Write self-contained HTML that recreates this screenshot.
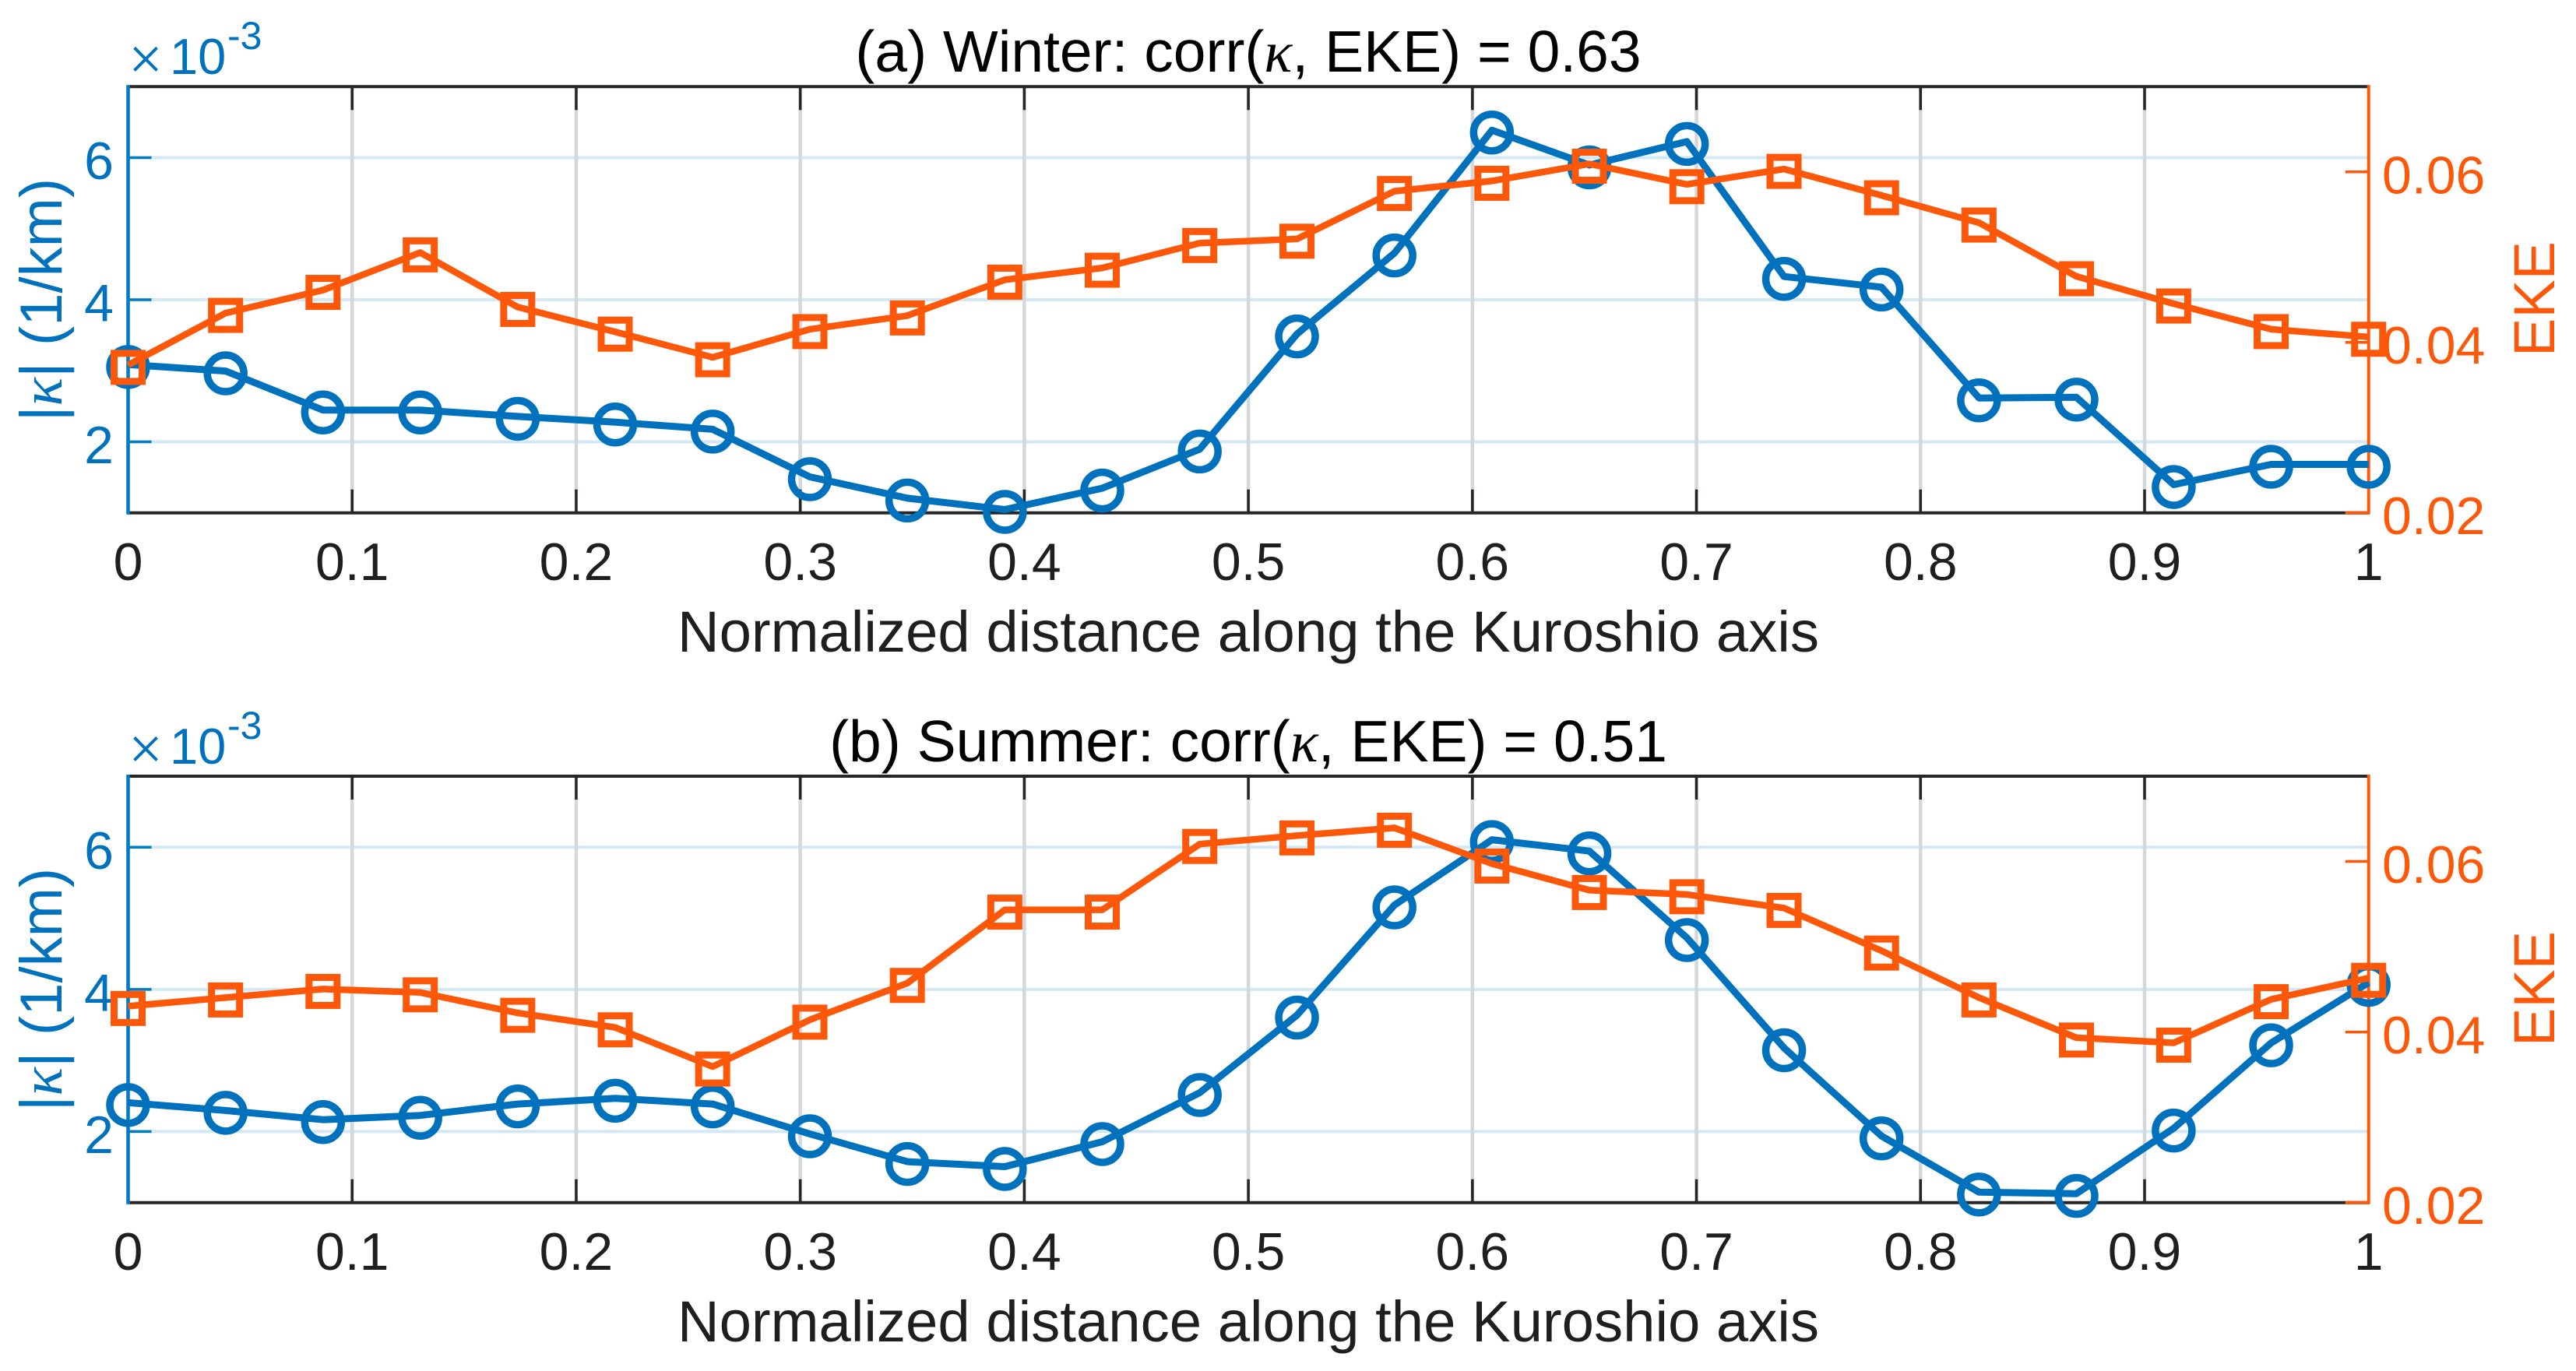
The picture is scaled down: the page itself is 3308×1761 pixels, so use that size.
<!DOCTYPE html>
<html lang="en">
<head>
<meta charset="utf-8">
<title>Curvature and EKE along the Kuroshio axis</title>
<style>
html,body{margin:0;padding:0;background:#fff;}
svg{display:block;}
text{font-family:"Liberation Sans",Arial,sans-serif;}
.k{font-family:"Liberation Serif",serif;font-style:italic;}
.blue{fill:#0072BD;}
.orange{fill:#FD5709;}
.dark{fill:#1f1f1f;}
</style>
</head>
<body>
<svg id="chart" xmlns="http://www.w3.org/2000/svg" width="3308" height="1761" viewBox="0 0 3308 1761">
  <rect x="0" y="0" width="3308" height="1761" fill="#fff"/>

  <g id="panel-a">
    <g id="a-axes"></g>
    <text x="1603" y="92" text-anchor="middle" font-size="75" fill="#000">(a) Winter: corr(<tspan class="k">κ</tspan>, EKE) = 0.63</text>
    <text x="1603" y="837" text-anchor="middle" font-size="74.3" class="dark">Normalized distance along the Kuroshio axis</text>
    <text transform="translate(79,385) rotate(-90)" text-anchor="middle" font-size="76" class="blue">|<tspan class="k">κ</tspan>| (1/km)</text>
    <text transform="translate(3280,384) rotate(-90)" text-anchor="middle" font-size="74" class="orange">EKE</text>
    <g>
      <text x="165" y="102" font-size="78" class="blue" style="font-family:'Liberation Serif',serif">×</text>
      <text x="218" y="95" font-size="65" class="blue">10</text>
      <text x="292" y="63" font-size="50" class="blue">-3</text>
    </g>
    <g id="a-series"></g>
  </g>

  <g id="panel-b">
    <g id="b-axes"></g>
    <text x="1603" y="978" text-anchor="middle" font-size="75" fill="#000">(b) Summer: corr(<tspan class="k">κ</tspan>, EKE) = 0.51</text>
    <text x="1603" y="1723" text-anchor="middle" font-size="74.3" class="dark">Normalized distance along the Kuroshio axis</text>
    <text transform="translate(79,1271) rotate(-90)" text-anchor="middle" font-size="76" class="blue">|<tspan class="k">κ</tspan>| (1/km)</text>
    <text transform="translate(3280,1270) rotate(-90)" text-anchor="middle" font-size="74" class="orange">EKE</text>
    <g>
      <text x="165" y="988" font-size="78" class="blue" style="font-family:'Liberation Serif',serif">×</text>
      <text x="218" y="981" font-size="65" class="blue">10</text>
      <text x="292" y="949" font-size="50" class="blue">-3</text>
    </g>
    <g id="b-series"></g>
  </g>
</svg>

<script>
// ---- data ----
const distance = [0, 0.0435, 0.087, 0.1304, 0.1739, 0.2174, 0.2609, 0.3043, 0.3478, 0.3913, 0.4348, 0.4783, 0.5217, 0.5652, 0.6087, 0.6522, 0.6957, 0.7391, 0.7826, 0.8261, 0.8696, 0.913, 0.9565, 1];
const winterCurvature = [3.07, 2.98, 2.43, 2.43, 2.34, 2.26, 2.16, 1.49, 1.19, 1.03, 1.33, 1.88, 3.50, 4.64, 6.37, 5.88, 6.21, 4.31, 4.16, 2.60, 2.61, 1.38, 1.665, 1.665];
const winterEke = [0.0372, 0.0433, 0.0460, 0.0504, 0.0440, 0.0411, 0.0381, 0.0414, 0.0430, 0.0472, 0.0486, 0.0515, 0.0520, 0.0576, 0.0588, 0.0608, 0.0584, 0.0602, 0.0571, 0.0539, 0.0476, 0.0444, 0.0414, 0.0405];
const summerCurvature = [2.39, 2.28, 2.15, 2.21, 2.37, 2.45, 2.37, 1.95, 1.56, 1.49, 1.84, 2.53, 3.62, 5.17, 6.09, 5.93, 4.71, 3.16, 1.92, 1.13, 1.11, 2.03, 3.23, 4.08];
const summerEke = [0.0429, 0.0439, 0.0449, 0.0445, 0.0421, 0.0404, 0.0358, 0.0413, 0.0456, 0.0542, 0.0542, 0.0619, 0.0629, 0.0638, 0.0596, 0.0565, 0.0560, 0.0544, 0.0494, 0.0439, 0.0392, 0.0386, 0.0437, 0.0462];
const xTicks = [0, 0.1, 0.2, 0.3, 0.4, 0.5, 0.6, 0.7, 0.8, 0.9, 1];
const xTickLabels = ['0', '0.1', '0.2', '0.3', '0.4', '0.5', '0.6', '0.7', '0.8', '0.9', '1'];
const curvatureTicks = [2, 4, 6];
const curvatureTickLabels = ['2', '4', '6'];
const ekeTicks = [0.02, 0.04, 0.06];
const ekeTickLabels = ['0.02', '0.04', '0.06'];
const curvatureLimits = [1, 7];
const ekeLimits = [0.02, 0.07];

// ---- axis functions ----
const NS = 'http://www.w3.org/2000/svg';
const LEFT = 164.5, RIGHT = 3041.7;
const BLUE = '#0072BD', ORANGE = '#FD5709', DARK = '#262626';

function xScale(v) { return LEFT + v * (RIGHT - LEFT); }
function leftScale(top, bottom, v) {
  return bottom - (v - curvatureLimits[0]) / (curvatureLimits[1] - curvatureLimits[0]) * (bottom - top);
}
function rightScale(top, bottom, v) {
  return bottom - (v - ekeLimits[0]) / (ekeLimits[1] - ekeLimits[0]) * (bottom - top);
}
function make(tag, parent, attrs) {
  const el = document.createElementNS(NS, tag);
  for (const k in attrs) el.setAttribute(k, attrs[k]);
  parent.appendChild(el);
  return el;
}
function seg(parent, x1, y1, x2, y2, color, w) {
  return make('line', parent, { x1: x1, y1: y1, x2: x2, y2: y2, stroke: color, 'stroke-width': w });
}

function drawAxes(parent, top, bottom) {
  curvatureTicks.forEach(function (v) {
    const g = seg(parent, LEFT, leftScale(top, bottom, v), RIGHT, leftScale(top, bottom, v), '#D2E8F4', 4);
    
    
  });
  xTicks.forEach(function (v) {
    if (v === 0 || v === 1) return;
    const g = seg(parent, xScale(v), top, xScale(v), bottom, '#D5D8DB', 4.5);
    
    
  });
  const topSpine = seg(parent, LEFT, top, RIGHT, top, DARK, 4);
  
  
  const bottomSpine = seg(parent, LEFT, bottom, RIGHT, bottom, DARK, 4);
  
  

  xTicks.forEach(function (v, i) {
    if (v !== 0 && v !== 1) {
      const t1 = seg(parent, xScale(v), top, xScale(v), top + 30, DARK, 3.5);
      
      
      const t2 = seg(parent, xScale(v), bottom, xScale(v), bottom - 30, DARK, 3.5);
      
      
    }
    const lab = make('text', parent, { x: xScale(v), y: bottom + 86.5, 'text-anchor': 'middle', 'font-size': 68, fill: '#1f1f1f' });
    lab.textContent = xTickLabels[i];
    
    
  });

  const leftSpine = seg(parent, LEFT, top - 2, LEFT, bottom + 2, '#007CC4', 4.6);
  
  
  curvatureTicks.forEach(function (v, i) {
    const y = leftScale(top, bottom, v);
    const t = seg(parent, LEFT, y, LEFT + 30, y, '#007CC4', 3.5);
    
    
    const lab = make('text', parent, { x: 146, y: y + 27.5, 'text-anchor': 'end', 'font-size': 68, fill: BLUE });
    lab.textContent = curvatureTickLabels[i];
    
    
  });

  const rightSpine = seg(parent, RIGHT, top - 2, RIGHT, bottom + 2, ORANGE, 4);
  
  
  ekeTicks.forEach(function (v, i) {
    const y = rightScale(top, bottom, v);
    const t = seg(parent, RIGHT - 30, y, RIGHT, y, ORANGE, i === 0 ? 4 : 3.5);
    
    
    const lab = make('text', parent, { x: 3059, y: y + 27.5, 'font-size': 68, fill: ORANGE });
    lab.textContent = ekeTickLabels[i];
    
    
  });
}

function pointsFor(xs, ys, scale, top, bottom, dy) {
  return xs.map(function (x, i) {
    return xScale(x).toFixed(1) + ',' + (scale(top, bottom, ys[i]) + dy).toFixed(1);
  }).join(' ');
}

function drawCurvature(parent, top, bottom, values) {
  const line = make('polyline', parent, { points: pointsFor(distance, values, leftScale, top, bottom, -1.5), fill: 'none', stroke: BLUE, 'stroke-width': 9, 'stroke-linejoin': 'round' });
  
  
  values.forEach(function (v, i) {
    const c = make('circle', parent, { cx: xScale(distance[i]), cy: leftScale(top, bottom, v) + 1.5, r: 23.5, fill: 'none', stroke: BLUE, 'stroke-width': 9.5 });
    
    
  });
}

function drawEke(parent, top, bottom, values) {
  const line = make('polyline', parent, { points: pointsFor(distance, values, rightScale, top, bottom, -1.5), fill: 'none', stroke: ORANGE, 'stroke-width': 8.5, 'stroke-linejoin': 'round' });
  
  
  values.forEach(function (v, i) {
    const s = make('rect', parent, { x: xScale(distance[i]) - 18, y: rightScale(top, bottom, v) + 1.5 - 18, width: 36, height: 36, fill: 'none', stroke: ORANGE, 'stroke-width': 9 });
    
    
  });
}

const A_TOP = 111.3, A_BOTTOM = 658.7, B_TOP = 997, B_BOTTOM = 1544.7;
drawAxes(document.getElementById('a-axes'), A_TOP, A_BOTTOM);
drawAxes(document.getElementById('b-axes'), B_TOP, B_BOTTOM);
drawCurvature(document.getElementById('a-series'), A_TOP, A_BOTTOM, winterCurvature);
drawEke(document.getElementById('a-series'), A_TOP, A_BOTTOM, winterEke);
drawCurvature(document.getElementById('b-series'), B_TOP, B_BOTTOM, summerCurvature);
drawEke(document.getElementById('b-series'), B_TOP, B_BOTTOM, summerEke);
</script>
</body>
</html>
